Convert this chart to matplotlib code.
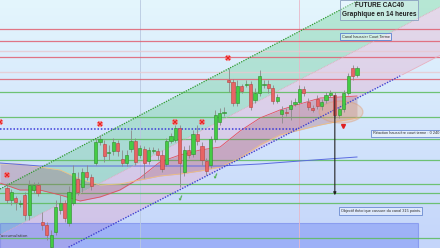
import numpy as np
import matplotlib.pyplot as plt
from matplotlib.patches import Rectangle, Ellipse

# candles (14h bars), index 0..79
opens = [7436, 7400, 7406, 7388, 7415, 7355, 7430, 7445, 7334, 7325,
         7259, 7304, 7370, 7391, 7331, 7391, 7463, 7439, 7484, 7469,
         7511, 7574, 7568, 7541, 7547, 7571, 7523, 7511, 7553, 7577,
         7535, 7553, 7517, 7547, 7547, 7535, 7508, 7577, 7580, 7616,
         7484, 7550, 7538, 7598, 7562, 7517, 7505, 7583, 7634, 7661,
         7760, 7754, 7691, 7742, 7745, 7748, 7700, 7721, 7745, 7748,
         7736, 7697, 7658, 7664, 7673, 7688, 7694, 7733, 7694, 7676,
         7703, 7682, 7700, 7715, 7715, 7655, 7673, 7721, 7796, 7775]
highs = [7451, 7433, 7412, 7400, 7424, 7460, 7454, 7454, 7364, 7334,
         7310, 7400, 7415, 7400, 7442, 7505, 7484, 7496, 7505, 7478,
         7586, 7595, 7580, 7565, 7586, 7580, 7550, 7550, 7610, 7586,
         7565, 7562, 7559, 7559, 7556, 7550, 7586, 7601, 7625, 7625,
         7562, 7565, 7610, 7625, 7574, 7526, 7592, 7670, 7676, 7679,
         7796, 7763, 7760, 7748, 7760, 7757, 7736, 7790, 7760, 7760,
         7745, 7718, 7682, 7676, 7700, 7706, 7745, 7742, 7706, 7685,
         7715, 7703, 7724, 7730, 7724, 7682, 7730, 7781, 7805, 7802]
lows = [7391, 7385, 7370, 7379, 7340, 7340, 7421, 7412, 7310, 7280,
        7244, 7295, 7358, 7334, 7322, 7385, 7415, 7424, 7460, 7430,
        7505, 7565, 7514, 7520, 7535, 7532, 7502, 7502, 7544, 7505,
        7526, 7466, 7508, 7541, 7520, 7484, 7502, 7571, 7574, 7439,
        7472, 7526, 7529, 7565, 7505, 7475, 7496, 7574, 7625, 7652,
        7724, 7682, 7682, 7721, 7739, 7670, 7691, 7712, 7736, 7721,
        7688, 7691, 7631, 7652, 7640, 7682, 7688, 7712, 7670, 7664,
        7673, 7670, 7691, 7709, 7646, 7646, 7664, 7715, 7760, 7769]
closes = [7400, 7424, 7394, 7391, 7355, 7445, 7445, 7421, 7325, 7295,
          7295, 7379, 7391, 7346, 7424, 7481, 7424, 7484, 7469, 7442,
          7574, 7583, 7532, 7544, 7574, 7547, 7511, 7535, 7577, 7514,
          7556, 7511, 7550, 7550, 7535, 7493, 7577, 7592, 7616, 7511,
          7550, 7535, 7598, 7577, 7520, 7487, 7583, 7655, 7661, 7664,
          7754, 7691, 7742, 7727, 7748, 7679, 7721, 7772, 7748, 7736,
          7697, 7709, 7670, 7661, 7685, 7694, 7733, 7721, 7679, 7670,
          7682, 7694, 7715, 7721, 7655, 7673, 7721, 7772, 7772, 7796]

# ichimoku style cloud and slow average
cloud_x = [-1.6, 2.9, 7.4, 12.0, 16.5, 21.0, 25.5, 30.0, 34.5, 39.0,
           43.6, 48.1, 52.6, 57.1, 61.6, 66.1, 70.7, 75.2, 79.0]
span_a = [7451, 7430, 7430, 7415, 7397, 7409, 7430, 7466, 7514, 7535,
          7550, 7559, 7607, 7646, 7670, 7688, 7706, 7709, 7712]
span_b = [7508, 7508, 7499, 7490, 7463, 7445, 7448, 7460, 7472, 7478,
          7487, 7499, 7526, 7565, 7595, 7610, 7625, 7637, 7646]
ma_x = [-1.6, 7.4, 32.3, 48.1, 57.1, 66.1, 79.0]
ma_y = [7511, 7502, 7502, 7502, 7508, 7517, 7529]

# support / resistance levels
red_levels = [7913, 7877, 7829, 7763]
faint_levels = [7847, 7784]
green_levels = [7724, 7649, 7583, 7520, 7448, 7421, 7391, 7286]
blue_level = 7613

# channel anchors (index, price)
upper_line = [(-1.58, 7433), (79.46, 8000)]
middle_line = [(48.08, 7637), (97.74, 7979)]
lower_line = [(13.54, 7256), (89.16, 7775)]

sell_x = [-1.58, 0.0, 21.0, 37.9, 44.0, 49.9]
sell_y = [7634, 7475, 7628, 7634, 7634, 7826]
buy_x = [39.1, 47.0]
buy_y = [7403, 7469]

XMIN, XMAX = -1.58, 97.74
YMIN, YMAX = 7256, 8000


def line_at(pts, x):
    (x0, y0), (x1, y1) = pts
    return y0 + (y1 - y0) / (x1 - x0) * (np.asarray(x) - x0)


fig = plt.figure(figsize=(4.4, 2.48), dpi=100)
ax = fig.add_axes([0, 0, 1, 1])
ax.set_xlim(XMIN, XMAX)
ax.set_ylim(YMIN, YMAX)
ax.axis('off')

# background gradient
top = np.array([228, 246, 253]) / 255
bot = np.array([196, 213, 250]) / 255
t = np.linspace(0, 1, 256)[:, None]
grad = (top * (1 - t) + bot * t)[:, None, :]
ax.imshow(grad, extent=[XMIN, XMAX, YMIN, YMAX], aspect='auto', zorder=0)

# channels
xs = np.linspace(XMIN, XMAX, 200)
up = line_at(upper_line, xs)
mid = line_at(middle_line, xs)
low = line_at(lower_line, xs)
ax.fill_between(xs, mid, np.maximum(up, mid), color='#4fc878', alpha=0.3, lw=0, zorder=1)
ax.fill_between(xs, low, mid, color='#e898c0', alpha=0.3, lw=0, zorder=1)

# accumulation zone
ax.add_patch(Rectangle((XMIN, YMIN - 20), 92.8 - XMIN, 7331 - YMIN + 20,
                       fc='#6f86f5', ec='#5a6ee8', alpha=0.45, lw=0.8, zorder=1.5))
ax.text(4.7, 7291, "Zone d'accumulation", ha='right', va='center', fontsize=2.8,
        color='#333333', zorder=6)

# vertical guides
ax.axvline(30.0, color='#b8c8e0', lw=0.6, zorder=1.6)
ax.axvline(65.9, color='#e8b8c8', lw=0.6, zorder=1.6)

# horizontal levels
for lv in red_levels:
    ax.axhline(lv, color='#e06070', lw=0.9, alpha=0.85, zorder=2)
for lv in faint_levels:
    ax.axhline(lv, color='#e8c8d0', lw=1.0, alpha=0.8, zorder=2)
for lv in green_levels:
    ax.axhline(lv, color='#5cbc5c', lw=0.9, alpha=0.85, zorder=2)
ax.plot([XMIN, 65.5], [blue_level, blue_level], color='#3a3ad8', lw=1.1,
        ls=(0, (1, 1.2)), zorder=3)

# cloud
ax.fill_between(cloud_x, span_a, span_b, color='#a05868', alpha=0.3, lw=0, zorder=2.5)
ax.plot(cloud_x, span_a, color='#e05060', lw=0.6, zorder=2.6)
ax.plot(cloud_x, span_b, color='#f0c080', lw=0.6, zorder=2.6)
ax.plot(ma_x, ma_y, color='#5a6ae0', lw=0.7, zorder=2.6)
ax.add_patch(Ellipse((75.4, 7664), 9.9, 66, fc='#f0b080', ec='#e09060',
                     alpha=0.35, lw=0.9, zorder=2.7))

# channel lines
ax.plot(xs, up, color='#2e9a2e', lw=0.9, ls=(0, (1, 1)), zorder=3)
ax.plot(xs, mid, color='#e0a8b8', lw=0.6, ls=(0, (1, 1)), zorder=3)
xl = xs[(xs >= 13.54) & (xs <= 89.16)]
ax.plot(xl, line_at(lower_line, xl), color='#4040d0', lw=1.0, ls=(0, (1, 1)), zorder=3)
xr = xs[xs >= 89.16]
ax.plot(xr, line_at(lower_line, xr), color='#e8b0c0', lw=0.6, zorder=3)

# candles
idx = np.arange(len(opens))
o = np.array(opens)
c = np.array(closes)
up_bar = c >= o
body_lo = np.minimum(o, c)
body_h = np.maximum(np.abs(c - o), 3)
ax.vlines(idx, lows, highs, color='#8a8a8a', lw=0.6, zorder=4)
ax.bar(idx[up_bar], body_h[up_bar], bottom=body_lo[up_bar], width=0.72,
       color='#44cc44', edgecolor='#2c8c2c', lw=0.4, zorder=4.5)
ax.bar(idx[~up_bar], body_h[~up_bar], bottom=body_lo[~up_bar], width=0.72,
       color='#e86464', edgecolor='#b84040', lw=0.4, zorder=4.5)

# signals
ax.plot(sell_x, sell_y, ls='none', marker='X', ms=4, color='#e82020',
        mec='#ff8080', mew=0.3, zorder=5)
for bx, by in zip(buy_x, buy_y):
    ax.text(bx, by, '\u2714', color='#50b050', fontsize=5.5, ha='center',
            va='center', rotation=20, zorder=5)
ax.plot([75.8], [7622], ls='none', marker='v', ms=2.8, color='#e02020', zorder=5)

# target arrow
ax.annotate('', xy=(74.0, 7406), xytext=(74.0, 7721),
            arrowprops=dict(arrowstyle='-|>', color='#222222', lw=0.8,
                            mutation_scale=4), zorder=5)

# labels
ax.text(84.0, 7970, 'FUTURE CAC40\nGraphique en 14 heures', ha='center', va='center',
        fontsize=4.7, fontweight='bold', color='#202020', linespacing=1.3,
        family='Liberation Sans', zorder=6,
        bbox=dict(boxstyle='square,pad=0.3', fc=(0.92, 0.96, 1, 0.35),
                  ec='#8aa0c0', lw=0.6))
ax.text(81.0, 7890, 'Canal haussier Court Terme', ha='center', va='center',
        fontsize=2.8, color='#303030', family='Liberation Sans', zorder=6,
        bbox=dict(boxstyle='square,pad=0.4', fc=(1, 1, 1, 0.4), ec='#5a80d0', lw=0.6))
ax.text(82.6, 7600, 'R\u00e9action haussi\u00e8re court terme : 0 240 points',
        ha='left', va='center', fontsize=2.8, color='#303030',
        family='Liberation Sans', zorder=6,
        bbox=dict(boxstyle='square,pad=0.4', fc=(1, 1, 1, 0.4), ec='#6a8ad0', lw=0.6))
ax.text(75.3, 7367, 'Objectif th\u00e9orique cassure du canal 315 points.',
        ha='left', va='center', fontsize=2.8, color='#303030',
        family='Liberation Sans', zorder=6,
        bbox=dict(boxstyle='square,pad=0.4', fc=(1, 1, 1, 0.4), ec='#6a8ad0', lw=0.6))

fig.savefig('out.png', dpi=100)
